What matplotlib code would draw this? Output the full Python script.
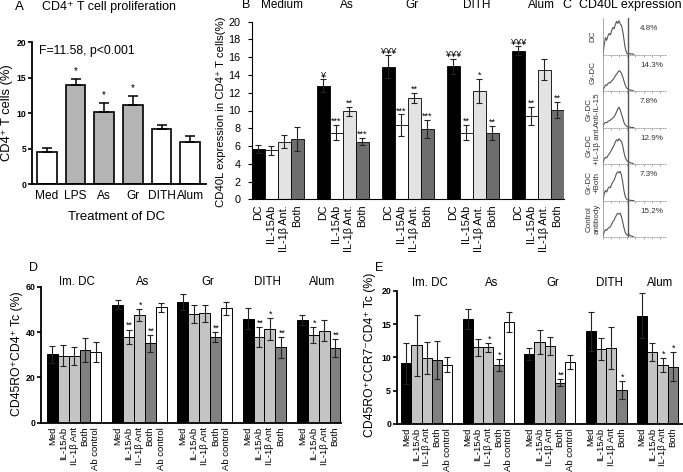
import matplotlib
matplotlib.use('Agg')
import matplotlib.pyplot as plt
import matplotlib.transforms as mtrans
import numpy as np

plt.rcParams['font.family'] = ['Liberation Sans', 'DejaVu Sans']

W, H = 683, 472
fig = plt.figure(figsize=(6.83, 4.72), dpi=100)


def rect(l, t, r, b):
    return [l / W, 1 - b / H, (r - l) / W, (b - t) / H]


def ftext(x, y, s, **kw):
    fig.text(x / W, 1 - y / H, s, **kw)


# ---------------- data ----------------
# Panel A
a_labels = ['Med', 'LPS', 'As', 'Gr', 'DITH', 'Alum']
a_values = [4.55, 13.9, 10.15, 11.1, 7.7, 5.95]
a_errors = [0.55, 0.95, 1.2, 1.35, 0.55, 0.8]
a_sig = ['', '*', '*', '*', '', '']
a_colors = ['white', '#b4b4b4', '#b4b4b4', '#b4b4b4', 'white', 'white']

# Panel B
b_groups = ['Medium', 'As', 'Gr', 'DITH', 'Alum']
b_conditions = ['DC', 'IL-15Ab', 'IL-1β Ant.', 'Both']
b_dc = [5.65, 12.8, 14.95, 15.0, 16.75]
b_dc_err = [0.45, 0.7, 1.25, 0.85, 0.5]
b_il15 = [5.5, 7.5, 8.35, 7.5, 9.4]
b_il15_err = [0.55, 0.85, 1.2, 0.85, 1.0]
b_il1b = [6.5, 9.9, 11.4, 12.2, 14.6]
b_il1b_err = [0.7, 0.5, 0.6, 1.35, 1.15]
b_both = [6.8, 6.5, 7.9, 7.5, 10.1]
b_both_err = [1.35, 0.4, 1.05, 0.8, 0.9]
b_dc_sig = ['', '¥', '¥¥¥', '¥¥¥', '¥¥¥']
b_il15_sig = ['', '***', '***', '**', '**']
b_il1b_sig = ['', '**', '**', '*', '']
b_both_sig = ['', '***', '***', '**', '**']

# Panel C
c_labels = ['DC', 'Gr-DC', 'Gr-DC\nAnti-IL-15', 'Gr-DC\n+IL-1β ant.', 'Gr-DC\n+Both', 'Control\nantibody']
c_percent = ['4.8%', '14.3%', '7.8%', '12.9%', '7.3%', '15.2%']
c_hist_dc = [0.02, 0.30, 0.50, 0.42, 0.55, 0.62, 0.58, 0.70, 0.80, 0.76, 0.88, 0.98, 0.92,
             1.00, 0.90, 0.86, 0.70, 0.45, 0.20, 0.06, 0.02, 0.01, 0.03, 0.01, 0.02, 0.0]
c_hist_gr = [0.02, 0.10, 0.18, 0.16, 0.22, 0.25, 0.24, 0.30, 0.33, 0.38, 0.45, 0.50, 0.55,
             0.60, 0.58, 0.52, 0.42, 0.30, 0.18, 0.10, 0.06, 0.04, 0.03, 0.02, 0.01, 0.0]
c_hist_il15 = [0.02, 0.12, 0.15, 0.14, 0.18, 0.20, 0.22, 0.25, 0.28, 0.32, 0.38, 0.46, 0.55,
               0.60, 0.52, 0.40, 0.28, 0.15, 0.08, 0.04, 0.02, 0.01, 0.01, 0.0, 0.0, 0.0]
c_hist_il1b = [0.02, 0.15, 0.20, 0.18, 0.25, 0.30, 0.35, 0.42, 0.50, 0.55, 0.65, 0.72, 0.68,
               0.75, 0.70, 0.66, 0.55, 0.35, 0.20, 0.12, 0.08, 0.06, 0.04, 0.03, 0.02, 0.0]
c_hist_both = [0.02, 0.20, 0.30, 0.25, 0.35, 0.40, 0.38, 0.48, 0.55, 0.60, 0.70, 0.80, 0.85,
               0.82, 0.86, 0.75, 0.55, 0.30, 0.12, 0.05, 0.02, 0.01, 0.01, 0.0, 0.0, 0.0]
c_hist_ctrl = [0.02, 0.15, 0.22, 0.20, 0.25, 0.28, 0.30, 0.38, 0.45, 0.50, 0.58, 0.65, 0.70,
               0.68, 0.70, 0.60, 0.45, 0.28, 0.14, 0.08, 0.05, 0.08, 0.04, 0.03, 0.02, 0.0]
c_hist_x = np.arange(26) * 0.05

# Panels D and E
de_groups = ['Im. DC', 'As', 'Gr', 'DITH', 'Alum']
de_conditions = ['Med', 'IL-15Ab', 'IL-1β Ant', 'Both', 'Ab control']

d_med = [30.1, 52.1, 53.2, 45.9, 45.3]
d_med_err = [3.7, 1.9, 3.4, 4.5, 2.2]
d_il15 = [29.6, 37.9, 47.8, 37.9, 38.7]
d_il15_err = [4.7, 3.2, 4.0, 4.4, 3.7]
d_il1b = [29.3, 47.5, 48.2, 41.5, 40.6]
d_il1b_err = [4.0, 2.5, 3.6, 4.8, 4.7]
d_both = [32.1, 35.0, 37.6, 33.2, 32.8]
d_both_err = [5.1, 3.7, 2.2, 4.7, 4.0]
d_abc = [31.3, 50.9, 50.4, None, None]
d_abc_err = [4.3, 2.0, 2.8, None, None]
d_il15_sig = ['', '**', '', '**', '*']
d_il1b_sig = ['', '*', '', '*', '']
d_both_sig = ['', '**', '**', '**', '**']

e_med = [9.1, 15.8, 10.5, 13.95, 16.3]
e_med_err = [3.1, 1.5, 0.85, 2.95, 3.45]
e_il15 = [11.8, 11.5, 12.3, 11.2, 10.8]
e_il15_err = [4.6, 1.3, 1.75, 1.65, 1.4]
e_il1b = [9.9, 11.5, 11.7, 11.35, 8.85]
e_il1b_err = [2.4, 0.7, 1.4, 3.15, 1.0]
e_both = [9.6, 8.85, 6.2, 5.1, 8.6]
e_both_err = [2.8, 0.85, 0.55, 1.4, 2.2]
e_abc = [8.9, 15.3, 9.3, None, None]
e_abc_err = [1.1, 1.5, 1.1, None, None]
e_il1b_sig = ['', '*', '', '', '*']
e_both_sig = ['', '*', '**', '*', '*']

# ---------------- Panel A ----------------
axA = fig.add_axes(rect(32, 42, 206, 184))
xa = np.arange(len(a_labels))
axA.bar(xa, a_values, width=0.68, color=a_colors, edgecolor='black', linewidth=1.2, zorder=2)
axA.errorbar(xa, a_values, yerr=[np.zeros(len(a_values)), a_errors], fmt='none',
             ecolor='black', elinewidth=1.1, capsize=3.5, capthick=1.1, zorder=3)
for x, v, e, s in zip(xa, a_values, a_errors, a_sig):
    if s:
        axA.text(x, v + e + 0.4, s, ha='center', va='bottom', fontsize=7)
axA.set_xlim(-0.52, 5.55)
axA.set_ylim(0, 20)
axA.set_yticks([0, 5, 10, 15, 20])
axA.set_xticks(xa)
axA.set_xticklabels(a_labels, fontsize=8.6)
axA.tick_params(axis='x', length=0, pad=4)
axA.tick_params(axis='y', length=3, width=1.2, labelsize=6.2, pad=1)
for t in axA.get_yticklabels():
    t.set_fontweight('bold')
for sp in ['top', 'right']:
    axA.spines[sp].set_visible(False)
for sp in ['left', 'bottom']:
    axA.spines[sp].set_linewidth(1.3)
axA.text(0.04, 0.98, 'F=11.58, p<0.001', transform=axA.transAxes, fontsize=8.8, va='top')
ftext(7, 113, 'CD4⁺ T cells (%)', fontsize=9.3, rotation=90, ha='center', va='center')
ftext(117, 217, 'Treatment of DC', fontsize=9.5, ha='center', va='center')
ftext(15, 7, 'A', fontsize=9.5, va='center')
ftext(42, 7, 'CD4⁺ T cell proliferation', fontsize=9, va='center')

# ---------------- Panel B ----------------
axB = fig.add_axes(rect(251.7, 21.7, 564, 199.3))
b_vals = [b_dc, b_il15, b_il1b, b_both]
b_errs = [b_dc_err, b_il15_err, b_il1b_err, b_both_err]
b_sigs = [b_dc_sig, b_il15_sig, b_il1b_sig, b_both_sig]
b_colors = ['black', 'white', '#e3e3e3', '#6e6e6e']
b_ticks, b_ticklabels = [], []
for ci in range(4):
    xs = np.arange(len(b_groups)) * 5 + ci
    axB.bar(xs, b_vals[ci], width=1.0, color=b_colors[ci], edgecolor='black',
            linewidth=0.6, zorder=2)
    axB.errorbar(xs, b_vals[ci], yerr=b_errs[ci], fmt='none', ecolor='#222222',
                 elinewidth=0.8, capsize=2.5, capthick=0.8, zorder=3)
    for x, v, e, s in zip(xs, b_vals[ci], b_errs[ci], b_sigs[ci]):
        if s:
            axB.text(x, v + e - 0.1, s, ha='center', va='bottom', fontsize=6.5, zorder=4)
for gi in range(len(b_groups)):
    for ci in range(4):
        b_ticks.append(gi * 5 + ci)
        b_ticklabels.append(b_conditions[ci])
axB.set_xticks(b_ticks)
axB.set_xticklabels(b_ticklabels, rotation=90, fontsize=7.8)
axB.tick_params(axis='x', length=0, pad=4)
axB.set_xlim(-0.5, 23.5)
axB.set_ylim(0, 20)
axB.set_yticks(range(0, 21, 2))
axB.tick_params(axis='y', length=3, width=0.8, labelsize=7.8, pad=5)
for sp in ['top', 'right']:
    axB.spines[sp].set_visible(False)
for sp in ['left', 'bottom']:
    axB.spines[sp].set_linewidth(0.8)
ftext(221, 112, 'CD40L expression in CD4⁺ T cells(%)', fontsize=8.2, rotation=90,
      ha='center', va='center')
trB = mtrans.blended_transform_factory(axB.transData, fig.transFigure)
for gi, g in enumerate(b_groups):
    axB.text(gi * 5 + 1.8, 1 - 5 / H, g, transform=trB, ha='center', va='center', fontsize=8.5)
ftext(242, 5, 'B', fontsize=9, va='center')

# ---------------- Panel C ----------------
ftext(562, 5, 'C', fontsize=9, va='center')
ftext(579, 5, 'CD40L expression', fontsize=9, va='center')
c_hists = [c_hist_dc, c_hist_gr, c_hist_il15, c_hist_il1b, c_hist_both, c_hist_ctrl]
top0, ph = 18, 36.5
for i in range(6):
    t = top0 + i * ph
    ax = fig.add_axes(rect(603, t, 667, t + ph))
    ax.plot(c_hist_x, c_hists[i], color='#555555', lw=0.8)
    ax.axvline(1.0, color='#555555', lw=1.0)
    ax.set_xlim(0, 2.6)
    ax.set_ylim(0, 1.08)
    ax.set_xticks(np.arange(0, 2.6, 0.33))
    ax.set_yticks([])
    ax.tick_params(axis='x', length=1.2, width=0.5, colors='#888888', labelbottom=False)
    for sp in ['top', 'right']:
        ax.spines[sp].set_visible(False)
    ax.spines['left'].set_linewidth(0.5)
    ax.spines['left'].set_color('#888888')
    ax.spines['bottom'].set_linestyle(':')
    ax.spines['bottom'].set_linewidth(0.6)
    ax.spines['bottom'].set_color('#999999')
    ax.patch.set_alpha(0)
    ax.text(0.58, 0.7, c_percent[i], transform=ax.transAxes, fontsize=5.8,
            ha='left', va='center', color='#333333')
    ftext(593, t + ph / 2, c_labels[i], rotation=90, fontsize=5.8, ha='center',
          va='center', color='#333333', linespacing=1.3)


# ---------------- Panels D, E ----------------
de_starts = [0, 6, 12, 18, 23]
de_colors = ['black', '#c4c4c4', '#c4c4c4', '#808080', 'white']


def draw_de(ax, vals, errs, sigs, ylim, yticks, title_y, lw_sp=1.3):
    ticks, labels = [], []
    for ci in range(5):
        xs, vs, es, ss = [], [], [], []
        for gi in range(5):
            v = vals[ci][gi]
            if v is None:
                continue
            xs.append(de_starts[gi] + ci)
            vs.append(v)
            es.append(errs[ci][gi])
            ss.append(sigs[ci][gi] if sigs[ci] else '')
        ax.bar(xs, vs, width=1.0, color=de_colors[ci], edgecolor='black', linewidth=0.7, zorder=2)
        ax.errorbar(xs, vs, yerr=es, fmt='none', ecolor='#222222', elinewidth=0.8,
                    capsize=2.5, capthick=0.8, zorder=3)
        for x, v, e, s in zip(xs, vs, es, ss):
            if s:
                ax.text(x + 0.1, v + e - ylim * 0.005, s, ha='center', va='bottom',
                        fontsize=6.3, zorder=4)
        for x in xs:
            ticks.append(x)
            labels.append(de_conditions[ci])
    ax.set_xticks(ticks)
    ax.set_xticklabels(labels, rotation=90, fontsize=6.8)
    ax.tick_params(axis='x', length=0, pad=3)
    ax.set_ylim(0, ylim)
    ax.set_yticks(yticks)
    ax.tick_params(axis='y', length=3, width=1.2, labelsize=6.3, pad=1)
    for t in ax.get_yticklabels():
        t.set_fontweight('bold')
    for sp in ['top', 'right']:
        ax.spines[sp].set_visible(False)
    for sp in ['left', 'bottom']:
        ax.spines[sp].set_linewidth(lw_sp)
    tr = mtrans.blended_transform_factory(ax.transData, fig.transFigure)
    for gi, g in enumerate(de_groups):
        n = 5 if vals[4][gi] is not None else 4
        ax.text(de_starts[gi] + (n - 1) / 2 + 0.3, 1 - title_y / H, g, transform=tr,
                ha='center', va='center', fontsize=8.3)


axD = fig.add_axes(rect(41, 286.7, 341, 422.7))
draw_de(axD, [d_med, d_il15, d_il1b, d_both, d_abc],
        [d_med_err, d_il15_err, d_il1b_err, d_both_err, d_abc_err],
        [None, d_il15_sig, d_il1b_sig, d_both_sig, None], 60, [0, 20, 40, 60], 281.7)
axD.set_xlim(-1.05, 26.55)
ftext(17, 354, 'CD45RO⁺CD4⁺ Tc (%)', fontsize=8.8, rotation=90, ha='center', va='center')
ftext(29, 268, 'D', fontsize=9, va='center')

axE = fig.add_axes(rect(396.7, 291, 682, 423.7))
draw_de(axE, [e_med, e_il15, e_il1b, e_both, e_abc],
        [e_med_err, e_il15_err, e_il1b_err, e_both_err, e_abc_err],
        [None, None, e_il1b_sig, e_both_sig, None], 20, [0, 5, 10, 15, 20], 282.7)
axE.set_xlim(-0.94, 26.9)
ftext(370, 355, 'CD45RO⁺CCR7⁻CD4⁺ Tc (%)', fontsize=8.8, rotation=90, ha='center', va='center')
ftext(375, 268, 'E', fontsize=9, va='center')

fig.savefig('out.png', dpi=100)
